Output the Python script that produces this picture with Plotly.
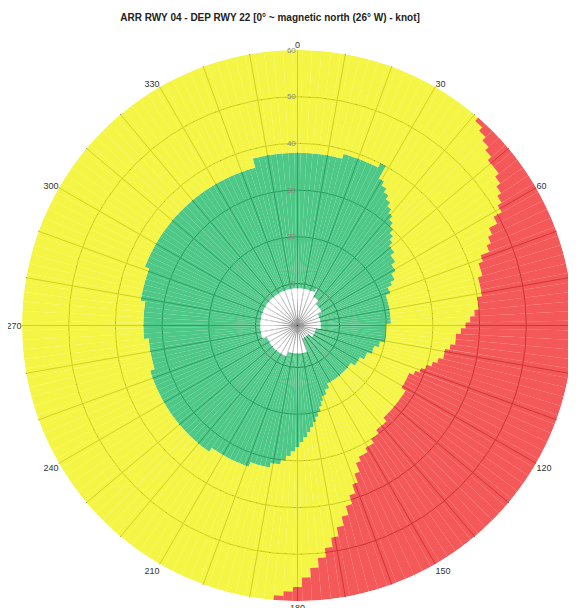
import plotly.graph_objects as go

# bar centres (degrees, clockwise from north), 2-degree sectors
theta = list(range(0, 360, 2))

# outer edge of the white (inner) zone, knots
white_top = [9, 9, 9, 9, 9, 9, 9, 9, 9, 9, 9, 9, 9, 9, 10, 8, 8, 8, 8, 8,
             8, 7, 7, 7, 7, 7, 7, 7, 7, 7, 7, 6, 6, 6, 6, 6, 6, 6, 6, 6,
             6, 6, 6, 6, 6, 6, 6, 6, 6, 6, 5, 5, 5, 5, 5, 5, 5, 5, 5, 5,
             5, 5, 5, 5, 5, 4, 4, 4, 4, 4, 4, 4, 4, 4, 4, 4, 4, 4, 4, 4,
             7, 7, 7, 7, 7, 7, 7, 7, 7, 7, 7, 7, 7, 7, 7, 7, 7, 7, 7, 7,
             8, 8, 8, 8, 8, 8, 8, 8, 8, 8, 8, 8, 8, 8, 8, 8, 8, 8, 8, 8,
             8, 8, 8, 8, 8, 9, 9, 9, 9, 9, 9, 9, 9, 9, 9, 9, 9, 9, 9, 9,
             9, 9, 9, 9, 9, 9, 9, 9, 9, 9, 9, 9, 9, 9, 9, 9, 9, 9, 9, 9,
             9, 9, 9, 9, 9, 9, 9, 9, 9, 9, 9, 9, 9, 9, 9, 9, 9, 9, 9, 9]

# outer edge of the green zone, knots
green_top = [38, 38, 38, 38, 38, 38, 38, 38, 39, 39, 39, 39, 39, 39, 40, 37, 36, 35, 34, 33,
             32, 31, 30, 29, 28, 27, 27, 26, 26, 25, 25, 24, 24, 23, 22, 22, 21, 21, 21, 21,
             21, 21, 21, 21, 21, 20, 20, 20, 20, 20, 20, 19, 19, 18, 18, 18, 17, 17, 17, 16,
             16, 16, 16, 15, 15, 15, 15, 15, 15, 15, 15, 15, 15, 15, 15, 15, 15, 16, 16, 17,
             17, 18, 19, 20, 21, 22, 23, 24, 25, 26, 27, 28, 29, 30, 31, 31, 32, 32, 32, 32,
             33, 33, 33, 33, 33, 33, 33, 33, 34, 34, 34, 34, 34, 34, 34, 34, 34, 34, 34, 34,
             34, 34, 34, 34, 34, 34, 34, 33, 33, 33, 33, 33, 33, 34, 34, 34, 34, 34, 34, 34,
             35, 35, 35, 35, 35, 35, 36, 36, 36, 36, 36, 36, 36, 36, 36, 36, 36, 36, 36, 36,
             36, 36, 36, 36, 36, 36, 36, 36, 36, 36, 36, 36, 36, 38, 38, 38, 38, 38, 38, 38]

# outer edge of the yellow zone (start of red), knots
yellow_top = [60, 60, 60, 60, 60, 60, 60, 60, 60, 60, 60, 60, 60, 60, 60, 60, 60, 60, 60, 60,
              60, 59, 58, 57, 56, 55, 55, 54, 53, 52, 51, 49, 47, 46, 45, 43, 42, 42, 41, 41,
              41, 40, 40, 39, 38, 37, 36, 35, 35, 34, 33, 33, 32, 31, 30, 29, 28, 27, 27, 27,
              27, 28, 28, 28, 28, 28, 28, 28, 28, 29, 29, 29, 30, 30, 31, 31, 32, 32, 33, 35,
              37, 39, 41, 43, 45, 47, 49, 51, 53, 55, 57, 58, 59, 60, 60, 60, 60, 60, 60, 60,
              60, 60, 60, 60, 60, 60, 60, 60, 60, 60, 60, 60, 60, 60, 60, 60, 60, 60, 60, 60,
              60, 60, 60, 60, 60, 60, 60, 60, 60, 60, 60, 60, 60, 60, 60, 60, 60, 60, 60, 60,
              60, 60, 60, 60, 60, 60, 60, 60, 60, 60, 60, 60, 60, 60, 60, 60, 60, 60, 60, 60,
              60, 60, 60, 60, 60, 60, 60, 60, 60, 60, 60, 60, 60, 60, 60, 60, 60, 60, 60, 60]

r_max = 60
radial_ticks = [10, 20, 30, 40, 50, 60]
angular_ticks = list(range(0, 360, 10))
angular_labels = [str(a) if a % 30 == 0 else "" for a in angular_ticks]

white_len = white_top
green_len = [g - w for g, w in zip(green_top, white_top)]
yellow_len = [y - g for y, g in zip(yellow_top, green_top)]
red_len = [r_max - y for y in yellow_top]

ALPHA = 0.86
def col(target):
    # colour that, drawn at ALPHA over white, gives the target colour
    base = [max(0, min(255, (t - (1 - ALPHA) * 255) / ALPHA)) for t in target]
    return "rgba(%d,%d,%d,%.2f)" % (*[round(b) for b in base], ALPHA)

fig = go.Figure()
for name, vals, rgb in [
    ("white", white_len, (255, 255, 255)),
    ("green", green_len, (78, 200, 135)),
    ("yellow", yellow_len, (245, 245, 68)),
    ("red", red_len, (245, 88, 88)),
]:
    fig.add_trace(go.Barpolar(
        theta=theta, r=vals, width=2, name=name,
        marker=dict(color=col(rgb), line=dict(width=0)),
        hoverinfo="skip", showlegend=False,
    ))

fig.update_layout(
    width=568, height=600,
    margin=dict(l=14, r=3, t=42, b=7),
    paper_bgcolor="white",
    title=dict(
        text="<b>ARR RWY 04 - DEP RWY 22 [0° ~ magnetic north (26° W) - knot]</b>",
        x=262 / 568, xanchor="center", y=1 - 9 / 600, yanchor="middle",
        font=dict(family="Liberation Sans", size=10, color="#222"),
    ),
    polar=dict(
        bgcolor="white",
        barmode="stack",
        bargap=0,
        angularaxis=dict(
            rotation=90, direction="clockwise",
            tickmode="array", tickvals=angular_ticks, ticktext=angular_labels,
            showgrid=True, gridcolor="black", gridwidth=1,
            showline=False, ticks="",
            tickfont=dict(family="Liberation Sans", size=9, color="#333"),
        ),
        radialaxis=dict(
            range=[1, r_max], tickvals=radial_ticks,
            showgrid=True, gridcolor="black", gridwidth=1,
            showline=False, ticks="", angle=90, side="counterclockwise",
            tickangle=90,
            tickfont=dict(family="Liberation Sans", size=8, color="#888"),
        ),
    ),
)

fig.write_html("out.html")
